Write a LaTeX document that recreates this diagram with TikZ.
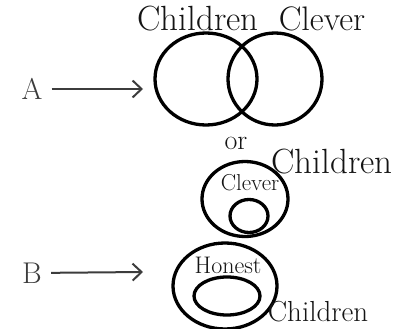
\documentclass[tikz,border=0pt]{standalone}
\usepackage{tikz}
\usetikzlibrary{positioning,arrows.meta,shapes.geometric}
\definecolor{cink}{RGB}{20,20,20}
\definecolor{cgray}{RGB}{60,60,60}

\begin{document}
\begin{tikzpicture}[
  x=1pt,y=-1pt,
  set/.style={ellipse,draw=black,line width=3.3pt,inner sep=0},
  lab/.style={text=cink,inner sep=0},
  a/.style={-{Straight Barb[length=9pt,width=17pt,line width=2pt]},cgray,line width=2pt},
]
\useasboundingbox (0,0) rectangle (396,329);
% --- A: overlapping sets ---
\node[set,minimum width=102pt,minimum height=92pt] (chA) at (206,79){};
\node[set,minimum width=94pt,minimum height=92pt] (clA) at (275,79){};
\node[lab,font=\fontsize{35}{35}\selectfont] (tchA) at (198,19){Children};
\node[lab,font=\fontsize{34}{34}\selectfont] (tclA) at (322,19){Clever};
\node[lab,text=cgray,font=\fontsize{30}{30}\selectfont] (A) at (32,89){A};
\coordinate (A1) at (143,89);
\draw[a,shorten <=9pt] (A) -- (A1);
% --- or: clever inside children ---
\node[lab,font=\fontsize{28}{28}\selectfont] (or) at (236,143){or};
\node[set,minimum width=86pt,minimum height=75pt] (chO) at (245,199){};
\node[set,minimum width=38pt,minimum height=33pt] (clO) at (249,216){};
\node[lab,font=\fontsize{35}{35}\selectfont] (tchO) at (332,162){Children};
\node[lab,font=\fontsize{23}{23}\selectfont] (tclO) at (250,183){Clever};
% --- B: children inside honest ---
\node[set,minimum width=104pt,minimum height=86pt] (hoB) at (225,286){};
\node[set,minimum width=66pt,minimum height=38pt] (chB) at (227,296){};
\node[lab,font=\fontsize{24}{24}\selectfont] (thoB) at (228,265){Honest};
\node[lab,font=\fontsize{29}{29}\selectfont] (tchB) at (318,312){Children};
\node[lab,text=cgray,font=\fontsize{30}{30}\selectfont] (B) at (32,273){B};
\coordinate (B1) at (143,272);
\draw[a,shorten <=9pt] (B) -- (B1);
\end{tikzpicture}
\end{document}
